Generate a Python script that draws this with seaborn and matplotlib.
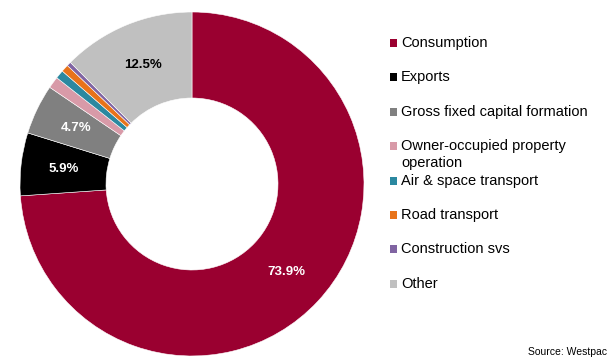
import matplotlib
matplotlib.use("Agg")
import matplotlib.pyplot as plt
from matplotlib.patches import Rectangle
import seaborn as sns

sns.set_theme(style="white")
plt.rcParams["font.family"] = ["Liberation Sans", "DejaVu Sans"]

categories = [
    "Consumption",
    "Exports",
    "Gross fixed capital formation",
    "Owner-occupied property\noperation",
    "Air & space transport",
    "Road transport",
    "Construction svs",
    "Other",
]
shares = [73.9, 5.9, 4.7, 1.1, 0.8, 0.7, 0.4, 12.5]
colors = ["#9A0030", "#000000", "#808080", "#D89AA8",
          "#2B88A0", "#E8731A", "#8064A2", "#C0C0C0"]
label_colors = ["white", "white", "white", None, None, None, None, "#000000"]

W, H = 611, 358
fig = plt.figure(figsize=(W / 100, H / 100), dpi=100)

# donut centre and outer radius in pixels
cx, cy, R = 192, 184, 172
ax = fig.add_axes([(cx - R) / W, (H - cy - R) / H, 2 * R / W, 2 * R / H])

wedges, _, autotexts = ax.pie(
    shares,
    colors=colors,
    startangle=90,
    counterclock=False,
    radius=1.0,
    pctdistance=0.75,
    autopct=lambda p: f"{p:.1f}%" if p >= 3 else "",
    wedgeprops=dict(width=0.5, edgecolor="white", linewidth=0.4),
    textprops=dict(fontsize=9.5, fontweight="bold"),
)
for t, c in zip(autotexts, label_colors):
    if c is not None:
        t.set_color(c)
ax.set_xlim(-1, 1)
ax.set_ylim(-1, 1)
ax.set_aspect("equal")
ax.axis("off")

# legend drawn as a column of swatches and labels
y0, step, line_h = 43, 34.4, 17
for i, (name, col) in enumerate(zip(categories, colors)):
    yc = y0 + step * i
    fig.patches.append(Rectangle((390 / W, 1 - (yc + 4) / H), 7 / W, 8 / H,
                                 transform=fig.transFigure, facecolor=col,
                                 edgecolor="none"))
    for k, line in enumerate(name.split("\n")):
        fig.text(401 / W, 1 - (yc + k * line_h) / H, line, fontsize=10.5,
                 color="#000000", va="center", ha="left")

fig.text(607 / W, 1 - 352 / H, "Source: Westpac", fontsize=7.5,
         color="#000000", ha="right", va="center")

fig.savefig("out.png", dpi=100, facecolor="white")
